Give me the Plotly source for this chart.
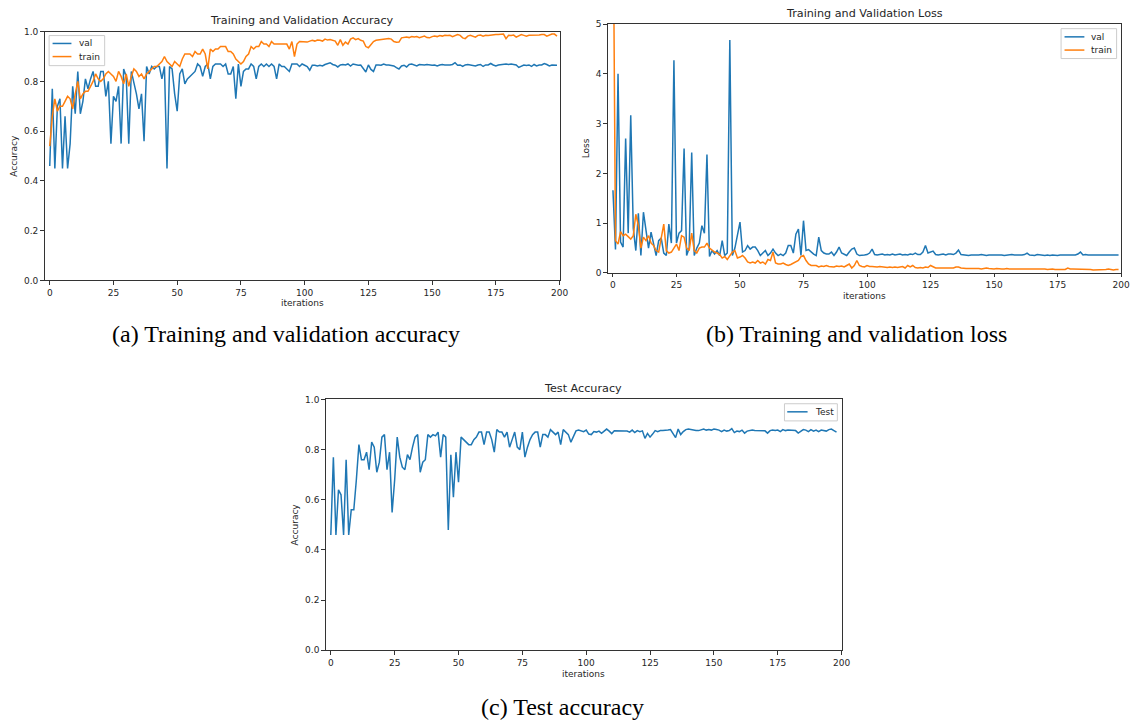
import plotly.graph_objects as go

# ---------------- data ----------------
val_acc = [0.46,0.77,0.45,0.70,0.73,0.45,0.66,0.45,0.55,0.78,
 0.67,0.84,0.67,0.72,0.81,0.77,0.81,0.84,0.78,0.78,
 0.84,0.84,0.74,0.80,0.55,0.74,0.72,0.78,0.55,0.85,
 0.82,0.55,0.84,0.80,0.75,0.69,0.75,0.56,0.86,0.83,
 0.86,0.85,0.86,0.86,0.81,0.86,0.45,0.86,0.85,0.75,
 0.68,0.83,0.85,0.79,0.81,0.82,0.83,0.84,0.87,0.86,
 0.82,0.86,0.87,0.81,0.86,0.87,0.87,0.87,0.86,0.87,
 0.83,0.83,0.86,0.73,0.87,0.78,0.84,0.85,0.85,0.87,
 0.86,0.81,0.86,0.87,0.86,0.87,0.86,0.87,0.86,0.81,
 0.87,0.86,0.86,0.85,0.84,0.87,0.87,0.87,0.86,0.87,
 0.865,0.86,0.845,0.865,0.865,0.862,0.865,0.862,0.868,0.872,
 0.875,0.868,0.865,0.858,0.866,0.868,0.866,0.87,0.862,0.87,
 0.866,0.865,0.866,0.85,0.838,0.866,0.848,0.84,0.866,0.866,
 0.865,0.87,0.866,0.866,0.864,0.862,0.855,0.85,0.862,0.865,
 0.858,0.868,0.87,0.866,0.862,0.868,0.866,0.866,0.868,0.866,
 0.865,0.866,0.862,0.866,0.868,0.866,0.865,0.866,0.868,0.875,
 0.865,0.866,0.86,0.866,0.868,0.866,0.865,0.862,0.866,0.868,
 0.86,0.866,0.866,0.872,0.866,0.862,0.866,0.868,0.87,0.87,
 0.868,0.87,0.868,0.866,0.856,0.862,0.866,0.864,0.866,0.86,
 0.868,0.862,0.866,0.866,0.872,0.868,0.862,0.866,0.865,0.865]

train_acc = [0.54,0.66,0.73,0.68,0.70,0.70,0.72,0.74,0.73,0.69,
 0.75,0.80,0.73,0.75,0.76,0.76,0.78,0.80,0.83,0.81,
 0.80,0.81,0.83,0.84,0.83,0.82,0.80,0.84,0.82,0.79,
 0.83,0.78,0.82,0.85,0.84,0.82,0.83,0.81,0.83,0.84,
 0.85,0.86,0.86,0.87,0.88,0.90,0.88,0.87,0.86,0.88,
 0.87,0.86,0.89,0.91,0.91,0.91,0.90,0.92,0.91,0.91,
 0.93,0.91,0.85,0.93,0.92,0.93,0.93,0.94,0.94,0.94,
 0.92,0.92,0.91,0.89,0.88,0.87,0.88,0.90,0.91,0.94,
 0.93,0.94,0.94,0.96,0.95,0.95,0.94,0.96,0.95,0.95,
 0.95,0.95,0.95,0.95,0.93,0.96,0.90,0.95,0.96,0.96,
 0.96,0.958,0.962,0.965,0.962,0.966,0.965,0.962,0.97,0.966,
 0.968,0.965,0.962,0.945,0.968,0.945,0.958,0.95,0.97,0.975,
 0.968,0.972,0.965,0.962,0.94,0.935,0.95,0.96,0.965,0.966,
 0.97,0.968,0.97,0.972,0.97,0.96,0.957,0.958,0.975,0.978,
 0.978,0.976,0.98,0.978,0.98,0.976,0.98,0.982,0.976,0.975,
 0.98,0.982,0.98,0.984,0.982,0.985,0.984,0.985,0.98,0.985,
 0.988,0.985,0.975,0.972,0.982,0.985,0.982,0.978,0.985,0.986,
 0.982,0.985,0.984,0.986,0.986,0.988,0.988,0.99,0.99,0.972,
 0.985,0.984,0.986,0.978,0.984,0.988,0.985,0.982,0.985,0.985,
 0.984,0.985,0.986,0.988,0.988,0.982,0.986,0.99,0.99,0.982]

val_loss = [1.66,0.47,4.0,0.62,0.52,2.7,0.8,3.17,0.9,0.45,
 1.2,0.35,1.22,0.9,0.5,0.82,0.55,0.35,0.65,0.7,
 0.4,0.35,0.98,0.6,4.27,0.6,0.8,0.85,2.5,0.35,
 0.5,2.42,0.35,0.5,0.6,0.95,0.8,2.38,0.33,0.45,
 0.38,0.45,0.35,0.65,0.35,0.4,4.68,0.35,0.5,0.8,
 1.02,0.42,0.45,0.55,0.48,0.52,0.52,0.45,0.35,0.4,
 0.45,0.35,0.4,0.48,0.4,0.35,0.38,0.35,0.4,0.55,
 0.55,0.4,0.78,0.88,0.35,1.05,0.45,0.47,0.42,0.38,
 0.35,0.72,0.45,0.4,0.38,0.38,0.42,0.35,0.42,0.52,
 0.4,0.38,0.35,0.42,0.48,0.5,0.38,0.35,0.35,0.36,
 0.37,0.4,0.48,0.37,0.36,0.37,0.38,0.36,0.37,0.36,
 0.38,0.36,0.37,0.38,0.36,0.37,0.36,0.38,0.37,0.4,
 0.37,0.37,0.42,0.55,0.4,0.42,0.44,0.37,0.36,0.37,
 0.38,0.36,0.38,0.38,0.37,0.4,0.46,0.37,0.36,0.36,
 0.35,0.36,0.36,0.35,0.36,0.37,0.36,0.35,0.36,0.36,
 0.36,0.37,0.36,0.36,0.35,0.36,0.36,0.37,0.36,0.36,
 0.35,0.36,0.37,0.4,0.36,0.36,0.35,0.37,0.36,0.36,
 0.35,0.36,0.35,0.36,0.35,0.35,0.36,0.36,0.35,0.36,
 0.35,0.36,0.36,0.38,0.42,0.36,0.37,0.36,0.36,0.35,
 0.36,0.36,0.35,0.36,0.36,0.36,0.35,0.36,0.36,0.36]

train_loss = [8.0,0.65,0.58,0.83,0.75,0.78,0.73,0.68,0.75,1.18,
 0.95,0.5,0.72,0.65,0.75,0.6,0.55,0.45,0.42,0.7,
 0.98,0.45,0.4,0.42,0.5,0.58,0.45,0.75,0.72,0.5,
 0.45,0.8,0.45,0.4,0.5,0.52,0.52,0.6,0.5,0.45,
 0.42,0.4,0.37,0.3,0.33,0.27,0.35,0.42,0.45,0.3,
 0.32,0.35,0.3,0.22,0.2,0.22,0.2,0.25,0.2,0.22,
 0.18,0.27,0.25,0.42,0.2,0.18,0.18,0.2,0.17,0.15,
 0.17,0.2,0.22,0.25,0.33,0.35,0.25,0.18,0.15,0.15,
 0.15,0.12,0.14,0.13,0.15,0.13,0.13,0.12,0.14,0.13,
 0.14,0.12,0.15,0.18,0.1,0.15,0.25,0.15,0.13,0.12,
 0.15,0.13,0.13,0.12,0.12,0.13,0.12,0.12,0.11,0.12,
 0.11,0.12,0.11,0.12,0.13,0.1,0.15,0.12,0.15,0.11,
 0.1,0.11,0.1,0.12,0.11,0.15,0.12,0.1,0.1,0.1,
 0.09,0.1,0.1,0.09,0.1,0.12,0.12,0.1,0.09,0.09,
 0.09,0.09,0.1,0.09,0.09,0.08,0.09,0.1,0.09,0.08,
 0.08,0.09,0.08,0.08,0.08,0.09,0.08,0.08,0.09,0.08,
 0.08,0.08,0.09,0.08,0.08,0.08,0.08,0.08,0.08,0.08,
 0.08,0.07,0.08,0.08,0.07,0.07,0.07,0.07,0.07,0.1,
 0.08,0.08,0.08,0.07,0.08,0.08,0.08,0.08,0.07,0.06,
 0.06,0.06,0.07,0.07,0.07,0.08,0.07,0.06,0.07,0.07]

test_acc = [0.46,0.77,0.46,0.64,0.62,0.46,0.76,0.46,0.56,0.56,
 0.68,0.82,0.76,0.76,0.79,0.72,0.83,0.81,0.71,0.75,
 0.85,0.86,0.72,0.79,0.55,0.68,0.85,0.77,0.73,0.72,
 0.78,0.76,0.81,0.85,0.86,0.71,0.75,0.76,0.86,0.85,
 0.86,0.855,0.87,0.77,0.86,0.85,0.48,0.78,0.61,0.79,
 0.67,0.85,0.84,0.83,0.82,0.82,0.84,0.85,0.87,0.87,
 0.82,0.87,0.87,0.84,0.79,0.88,0.87,0.87,0.85,0.87,
 0.81,0.84,0.87,0.81,0.80,0.87,0.77,0.81,0.84,0.86,
 0.87,0.87,0.81,0.86,0.86,0.85,0.88,0.87,0.86,0.87,
 0.82,0.88,0.87,0.86,0.83,0.85,
 0.875,0.878,0.875,0.872,0.878,0.862,0.86,0.872,0.87,0.874,
 0.865,0.875,0.882,0.874,0.864,0.875,0.874,0.874,0.872,0.874,
 0.874,0.87,0.878,0.868,0.876,0.872,0.875,0.845,0.865,0.85,
 0.862,0.876,0.872,0.876,0.876,0.876,0.878,0.88,0.866,0.848,
 0.882,0.86,0.872,0.88,0.882,0.88,0.876,0.876,0.876,0.878,
 0.882,0.878,0.88,0.878,0.882,0.88,0.878,0.872,0.878,0.874,
 0.876,0.884,0.868,0.874,0.872,0.878,0.866,0.874,0.876,0.878,
 0.876,0.876,0.874,0.876,0.875,0.866,0.876,0.878,0.876,0.878,
 0.872,0.88,0.876,0.878,0.878,0.878,0.876,0.866,0.872,0.88,
 0.878,0.872,0.88,0.874,0.878,0.872,0.878,0.876,0.874,0.88,
 0.882,0.876,0.87]

x_ticks = [0, 25, 50, 75, 100, 125, 150, 175, 200]
titles = ["Training and Validation Accuracy", "Training and Validation Loss", "Test Accuracy"]
captions = ["(a) Training and validation accuracy", "(b) Training and validation loss", "(c) Test accuracy"]

# ---------------- figure ----------------
W, H = 1141, 727
BLUE, ORANGE = "#1f77b4", "#ff7f0e"
SANS = "DejaVu Sans"
TXT = "#262626"


def px(x):
    return x / W


def py(y):
    return 1 - y / H


fig = go.Figure()
xs = list(range(200))
fig.add_trace(go.Scatter(x=xs, y=val_acc, mode="lines", name="val", line=dict(color=BLUE, width=1.5),
                         xaxis="x", yaxis="y"))
fig.add_trace(go.Scatter(x=xs, y=train_acc, mode="lines", name="train", line=dict(color=ORANGE, width=1.5),
                         xaxis="x", yaxis="y"))
fig.add_trace(go.Scatter(x=xs, y=val_loss, mode="lines", name="val", line=dict(color=BLUE, width=1.5),
                         xaxis="x2", yaxis="y2"))
fig.add_trace(go.Scatter(x=xs, y=train_loss, mode="lines", name="train", line=dict(color=ORANGE, width=1.5),
                         xaxis="x2", yaxis="y2"))
fig.add_trace(go.Scatter(x=list(range(len(test_acc))), y=test_acc, mode="lines", name="Test",
                         line=dict(color=BLUE, width=1.5), xaxis="x3", yaxis="y3"))

tickfont = dict(family=SANS, size=9, color=TXT)
common_ax = dict(showline=True, linecolor="#333333", linewidth=1, mirror=True, ticks="outside",
                 ticklen=3.5, tickcolor="#333333", showgrid=False, zeroline=False, tickfont=tickfont)


def xax(dom, anchor):
    return dict(domain=dom, anchor=anchor, range=[-2, 200], tickvals=x_ticks, **common_ax)


def yax(dom, anchor, rng, dtick, fmt):
    return dict(domain=dom, anchor=anchor, range=rng, dtick=dtick, tick0=0, tickformat=fmt, **common_ax)


fig.update_layout(
    width=W, height=H, margin=dict(l=0, r=0, t=0, b=0),
    paper_bgcolor="white", plot_bgcolor="white", showlegend=False,
    xaxis=xax([px(45), px(564)], "y"),
    yaxis=yax([py(279.3), py(27)], "x", [0, 1], 0.2, ".1f"),
    xaxis2=xax([px(612.7), px(1130)], "y2"),
    yaxis2=yax([py(271.7), py(19.3)], "x2", [0, 5], 1, "d"),
    xaxis3=xax([px(328.3), px(848.3)], "y3"),
    yaxis3=yax([py(654.3), py(400)], "x3", [0, 1], 0.2, ".1f"),
)

ann = []
shapes = []


def add_text(text, x, y, size, family=SANS, angle=0, color=TXT, anchor="center"):
    ann.append(dict(text=text, x=px(x), y=py(y), xref="paper", yref="paper", showarrow=False,
                    xanchor=anchor, yanchor="middle", textangle=angle,
                    font=dict(family=family, size=size, color=color)))


def add_legend(box, items):
    x0, y0, x1, y1 = box
    shapes.append(dict(type="rect", xref="paper", yref="paper", x0=px(x0), x1=px(x1), y0=py(y1), y1=py(y0),
                       line=dict(color="#cccccc", width=1), fillcolor="rgba(255,255,255,0.8)", layer="above"))
    for (label, color, lx0, lx1, ly, tx) in items:
        shapes.append(dict(type="line", xref="paper", yref="paper", x0=px(lx0), x1=px(lx1), y0=py(ly), y1=py(ly),
                           line=dict(color=color, width=1.5), layer="above"))
        add_text(label, tx, ly, 9, anchor="left")


add_legend((49.5, 31, 105.5, 61.5), [("val", BLUE, 53, 72, 39, 77.5), ("train", ORANGE, 53, 72, 52.3, 77.5)])
add_legend((1069.5, 24, 1125.5, 54.3), [("val", BLUE, 1073, 1093, 32.3, 1097.5),
                                        ("train", ORANGE, 1073, 1093, 45.7, 1097.5)])
add_legend((790.7, 404.3, 844, 421.7), [("Test", BLUE, 793.5, 814, 412.5, 819)])

add_text(titles[0], 304.5, 16, 11.2)
add_text(titles[1], 871, 9, 11.2)
add_text(titles[2], 588, 389, 11.2)
add_text("iterations", 304.5, 302, 9)
add_text("iterations", 871, 295, 9)
add_text("iterations", 588, 678, 9)
add_text("Accuracy", 14, 153, 9, angle=-90)
add_text("Loss", 591, 145, 9, angle=-90)
add_text("Accuracy", 297, 527, 9, angle=-90)
add_text(captions[0], 288.5, 334, 24, family="Liberation Serif", color="black")
add_text(captions[1], 863.5, 334, 24, family="Liberation Serif", color="black")
add_text(captions[2], 567, 712, 24, family="Liberation Serif", color="black")
fig.update_layout(annotations=ann, shapes=shapes)

# pin the figure to the top-left corner of the page (no body margin, no scrollbars)
post = ("document.documentElement.style.margin='0';document.body.style.margin='0';"
        "document.documentElement.style.overflow='hidden';document.body.style.overflow='hidden';"
        "var gd=document.getElementById('{plot_id}');gd.style.position='fixed';"
        "gd.style.left='0px';gd.style.top='0px';")
fig.write_html("out.html", post_script=post, config={"displayModeBar": False, "staticPlot": True})
